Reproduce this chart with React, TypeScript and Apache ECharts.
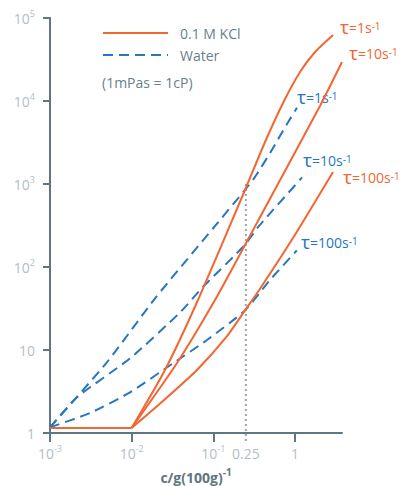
import React, { useEffect, useRef } from 'react';
import * as echarts from 'echarts';

// concentration c (g/100g) vs viscosity (mPas), log-log
const KCL_BASE: [number, number][] = [[0.001, 1.15], [0.01, 1.15]];
const KCL_TAU1: [number, number][] = [
  [0.01, 1.15], [0.0256, 5.74], [0.0648, 40], [0.244, 847], [0.4295, 3206],
  [0.713, 9460], [1.151, 22340], [1.758, 38900], [2.917, 62400],
];
const KCL_TAU10: [number, number][] = [
  [0.01, 1.15], [0.0359, 6.97], [0.1047, 40], [0.244, 184], [0.753, 1435],
  [2.02, 8710], [3.76, 29500],
];
const KCL_TAU100: [number, number][] = [
  [0.01, 1.15], [0.0242, 2.43], [0.063, 5.74], [0.147, 14.7], [0.244, 30],
  [0.37, 54], [0.944, 223], [2.92, 1395],
];
const WATER_TAU1: [number, number][] = [
  [0.001, 1.17], [0.005, 7.16], [0.02, 43.7], [0.1, 295], [0.244, 850],
  [0.316, 1175], [0.5, 2400], [0.794, 5250], [1.057, 8300],
];
const WATER_TAU10: [number, number][] = [
  [0.001, 1.17], [0.00214, 2.69], [0.00955, 7.94], [0.0389, 28.2], [0.0746, 57.5],
  [0.244, 185], [0.352, 302], [1.22, 1200],
];
const WATER_TAU100: [number, number][] = [
  [0.001, 1.17], [0.00309, 1.74], [0.00955, 3.09], [0.0321, 6.92], [0.0836, 13.2],
  [0.244, 30], [0.5, 70.8], [1.05, 158],
];
const MARK_LINE: [number, number][] = [[0.25, 1000], [0.25, 0.76]];

const X_MIN = 0.001;
const X_MAX = 3.76;
const Y_MIN = 1;
const Y_MAX = 100000;
const X_TICKS = [0.001, 0.01, 0.1, 1];
const X_LABELS = [0.001, 0.01, 0.1, 0.25, 1];
const Y_TICKS = [1, 10, 100, 1000, 10000, 100000];

const SERIES_KCL = '0.1 M KCl';
const SERIES_WATER = 'Water';
const NOTE = '(1mPas = 1cP)';
const X_TITLE = 'c/g(100g)';

const ORANGE = '#f26631';
const BLUE = '#2677c0';
const AXIS = '#5f7683';
const TICK_TEXT = '#b3bec5';
const TEXT = '#687f8d';
const FONT = '"Open Sans", "Noto Sans", sans-serif';

function tickLabel(v: number): string {
  if (Math.abs(v - 0.25) < 1e-9) return '{b|0.25}';
  const e = Math.round(Math.log10(v));
  if (e === 0) return '{b|1}';
  if (e === 1) return '{b|10}';
  return `{b|10}{s|${e}}`;
}

const tickRich = {
  b: { fontSize: 14, color: TICK_TEXT, fontFamily: FONT, lineHeight: 18 },
  s: { fontSize: 9, color: TICK_TEXT, fontFamily: FONT, verticalAlign: 'top' as const },
};

function tauLabel(value: string, color: string, x: number, y: number) {
  return {
    type: 'text',
    x,
    y,
    silent: true,
    style: {
      text: `{t|τ}{n|=${value}s}{s|-1}`,
      fill: color,
      align: 'left',
      verticalAlign: 'middle',
      rich: {
        t: { fontSize: 19, fill: color, fontFamily: FONT, lineHeight: 13 },
        n: { fontSize: 14, fill: color, fontFamily: FONT, lineHeight: 13 },
        s: { fontSize: 10, fill: color, fontFamily: FONT, verticalAlign: 'top', lineHeight: 10 },
      },
    },
  };
}

function line(name: string, data: [number, number][], color: string, dashed: boolean, smooth: number | boolean) {
  return {
    type: 'line',
    name,
    data,
    symbol: 'none',
    showSymbol: false,
    smooth,
    silent: true,
    z: dashed ? 3 : 4,
    itemStyle: { color },
    lineStyle: { color, width: 2, type: dashed ? [10, 6] : 'solid', cap: 'butt' },
  };
}

export default function App() {
  const ref = useRef<HTMLDivElement>(null);
  useEffect(() => {
    document.body.style.margin = '0';
    if (!ref.current) return;
    const chart = echarts.init(ref.current, undefined, { renderer: 'svg' });
    chart.setOption({
      animation: false,
      backgroundColor: '#ffffff',
      textStyle: { fontFamily: FONT },
      grid: { left: 50, right: 59, top: 18, bottom: 53, containLabel: false, outerBoundsMode: 'none' },
      legend: {
        orient: 'vertical',
        left: 102,
        top: 26,
        padding: 0,
        itemWidth: 65,
        itemHeight: 14,
        itemGap: 8,
        selectedMode: false,
        itemStyle: { opacity: 0 },
        data: [SERIES_KCL, SERIES_WATER],
        textStyle: { color: TEXT, fontSize: 14, fontFamily: FONT, padding: [0, 0, 0, 7] },
      },
      xAxis: {
        type: 'log',
        logBase: 10,
        min: X_MIN,
        max: X_MAX,
        name: `{a|${X_TITLE}}{s|-1}`,
        nameLocation: 'middle',
        nameGap: 34,
        nameTextStyle: {
          rich: {
            a: { fontSize: 14, fontWeight: 'bold', color: AXIS, fontFamily: FONT, lineHeight: 20 },
            s: { fontSize: 10, fontWeight: 'bold', color: AXIS, fontFamily: FONT, verticalAlign: 'top' },
          },
        },
        splitLine: { show: false },
        axisLine: { show: true, lineStyle: { color: AXIS, width: 2 } },
        axisTick: { show: true, length: 9, customValues: X_TICKS, lineStyle: { color: AXIS, width: 2 } },
        axisLabel: { customValues: X_LABELS, margin: 11, formatter: tickLabel, rich: tickRich },
        minorTick: { show: false },
      },
      yAxis: {
        type: 'log',
        logBase: 10,
        min: Y_MIN,
        max: Y_MAX,
        splitLine: { show: false },
        axisLine: { show: true, lineStyle: { color: AXIS, width: 2 } },
        axisTick: { show: true, length: 7, customValues: Y_TICKS, lineStyle: { color: AXIS, width: 2 } },
        axisLabel: { customValues: Y_TICKS, margin: 15, formatter: tickLabel, rich: tickRich },
      },
      series: [
        line(SERIES_WATER, WATER_TAU1, BLUE, true, 0.2),
        line(SERIES_WATER, WATER_TAU10, BLUE, true, 0.2),
        line(SERIES_WATER, WATER_TAU100, BLUE, true, 0.2),
        line(SERIES_KCL, KCL_BASE, ORANGE, false, false),
        line(SERIES_KCL, KCL_TAU1, ORANGE, false, 0.2),
        line(SERIES_KCL, KCL_TAU10, ORANGE, false, 0.2),
        line(SERIES_KCL, KCL_TAU100, ORANGE, false, 0.2),
        {
          type: 'line',
          name: 'marker',
          data: MARK_LINE,
          symbol: 'none',
          clip: false,
          silent: true,
          z: 2,
          lineStyle: { color: '#9aa5ac', width: 2, type: [2, 3] },
        },
      ],
      graphic: [
        {
          type: 'text',
          x: 102,
          y: 82,
          silent: true,
          style: { text: NOTE, fill: TEXT, fontSize: 14, fontFamily: FONT, align: 'left', verticalAlign: 'middle' },
        },
        tauLabel('1', ORANGE, 340, 27),
        tauLabel('10', ORANGE, 349, 53),
        tauLabel('100', ORANGE, 343, 177),
        tauLabel('1', BLUE, 297, 97),
        tauLabel('10', BLUE, 303, 160),
        tauLabel('100', BLUE, 301, 242),
      ],
    });
    return () => chart.dispose();
  }, []);
  return <div ref={ref} style={{ width: 401, height: 486 }} />;
}
